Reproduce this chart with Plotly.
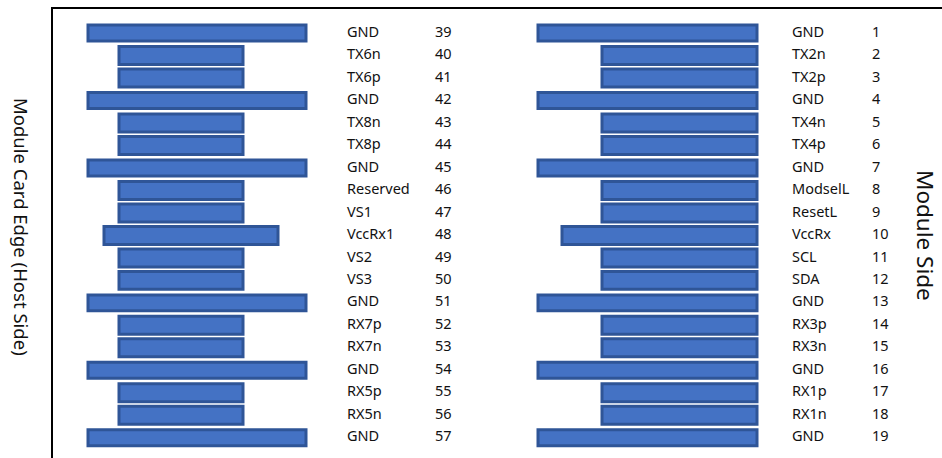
import plotly.graph_objects as go

# ---- data ----
left_names = ["GND", "TX6n", "TX6p", "GND", "TX8n", "TX8p", "GND", "Reserved", "VS1", "VccRx1",
              "VS2", "VS3", "GND", "RX7p", "RX7n", "GND", "RX5p", "RX5n", "GND"]
left_nums = [str(n) for n in range(39, 58)]
right_names = ["GND", "TX2n", "TX2p", "GND", "TX4n", "TX4p", "GND", "ModselL", "ResetL", "VccRx",
               "SCL", "SDA", "GND", "RX3p", "RX3n", "GND", "RX1p", "RX1n", "GND"]
right_nums = [str(n) for n in range(1, 20)]

# bar extents (start, end), in horizontal chart units
left_start = [88, 119, 119, 88, 119, 119, 88, 119, 119, 104, 119, 119, 88, 119, 119, 88, 119, 119, 88]
left_end = [306, 243, 243, 306, 243, 243, 306, 243, 243, 278, 243, 243, 306, 243, 243, 306, 243, 243, 306]
right_start = [538, 602, 602, 538, 602, 602, 538, 602, 602, 562, 602, 602, 538, 602, 602, 538, 602, 602, 538]
right_end = [757] * 19

rows = list(range(19))

FILL = "#4472C4"
EDGE = "#2F5597"
FONT = "Noto Sans"

def thick(names):
    return [0.71 if n == "GND" else 0.8 for n in names]

fig = go.Figure()

for starts, ends, names in [(left_start, left_end, left_names), (right_start, right_end, right_names)]:
    fig.add_trace(go.Bar(
        orientation="h",
        y=rows,
        base=starts,
        x=[e - s for s, e in zip(starts, ends)],
        width=thick(names),
        marker=dict(color=FILL, line=dict(color=EDGE, width=3)),
        hoverinfo="skip",
        showlegend=False,
    ))

label_cols = [(347, left_names), (435, left_nums), (792, right_names), (872, right_nums)]
for xpos, texts in label_cols:
    fig.add_trace(go.Scatter(
        x=[xpos] * len(texts),
        y=rows,
        mode="text",
        text=texts,
        textposition="middle right",
        textfont=dict(family=FONT, size=14.5, color="#111111"),
        hoverinfo="skip",
        showlegend=False,
    ))

fig.update_layout(
    width=942, height=458,
    margin=dict(l=0, r=0, t=0, b=0),
    paper_bgcolor="white", plot_bgcolor="white",
    barmode="overlay",
    xaxis=dict(range=[0, 942], visible=False, fixedrange=True),
    yaxis=dict(range=[18.9, -1.47], visible=False, fixedrange=True),
    font=dict(family=FONT),
    shapes=[
        dict(type="line", xref="x", yref="paper", x0=52, x1=52, y0=0, y1=1 - 8 / 458,
             line=dict(color="black", width=2)),
        dict(type="line", xref="x", yref="paper", x0=51, x1=942, y0=1 - 8 / 458, y1=1 - 8 / 458,
             line=dict(color="black", width=2)),
    ],
    annotations=[
        dict(text="Module Card Edge (Host Side)", x=22, y=1 - 227 / 458, xref="x", yref="paper",
             showarrow=False, textangle=90, font=dict(family=FONT, size=18.5, color="#111111")),
        dict(text="Module Side", x=926, y=1 - 235 / 458, xref="x", yref="paper",
             showarrow=False, textangle=90, font=dict(family=FONT, size=22.5, color="#111111")),
    ],
)

fig.write_html("out.html", config={"displayModeBar": False},
               post_script="document.body.style.margin='0';document.body.style.padding='0';")
